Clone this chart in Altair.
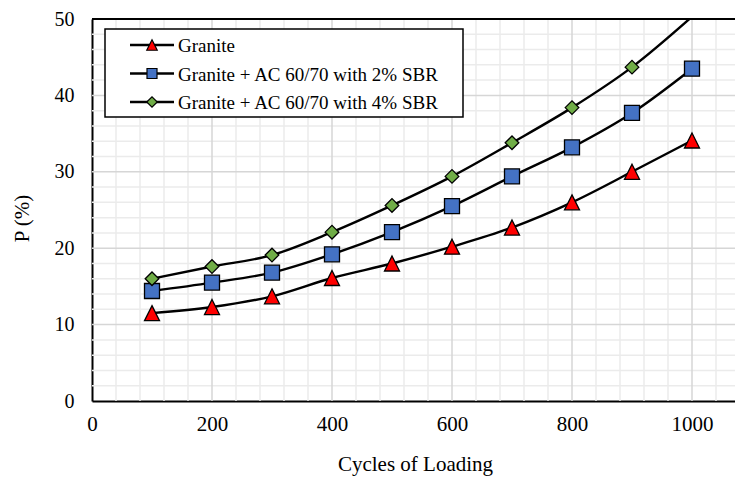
import altair as alt
import pandas as pd

# ---- data ----
cycles = [100, 200, 300, 400, 500, 600, 700, 800, 900, 1000]
series_names = ["Granite", "Granite + AC 60/70 with 2% SBR", "Granite + AC 60/70 with 4% SBR"]
granite = [11.5, 12.3, 13.7, 16.1, 18.0, 20.2, 22.7, 26.0, 30.0, 34.1]
sbr2 = [14.4, 15.5, 16.8, 19.2, 22.1, 25.5, 29.4, 33.2, 37.7, 43.5]
sbr4 = [16.0, 17.6, 19.1, 22.1, 25.6, 29.4, 33.8, 38.4, 43.7, 50.3]
x_ticks = [0, 200, 400, 600, 800, 1000]
y_ticks = [0, 10, 20, 30, 40, 50]

# ---- styling ----
FONT = "Liberation Serif"
W, H = 643, 382
XMAX = W / 0.6
YMAX = 50
shapes = ["M0,-1L1,1L-1,1Z", "square", "diamond"]
fills = ["#FF0000", "#4472C4", "#70AD47"]
plot_sizes = [225, 225, 185]
legend_sizes = [110, 100, 110]

rows = []
for name, vals in zip(series_names, [granite, sbr2, sbr4]):
    for c, v in zip(cycles, vals):
        rows.append({"series": name, "cycles": c, "P": v})
df = pd.DataFrame(rows)

xs = alt.Scale(domain=[0, XMAX], nice=False, zero=False)
ys = alt.Scale(domain=[0, YMAX], nice=False)

minor_x = [v for v in range(40, int(XMAX) + 1, 40) if v % 200 != 0]
major_x = [v for v in x_ticks if v > 0]
minor_y = [v for v in range(2, YMAX, 2) if v % 10 != 0]
major_y = [v for v in y_ticks if 0 < v < YMAX]

minor_col = "#EBEBEB"
major_col = "#D6D6D6"

x_axis = alt.Axis(values=x_ticks, format="d", grid=False, ticks=False, domainColor="black", domainWidth=2,
                  labelFont=FONT, labelFontSize=21, labelColor="black", labelPadding=12, labelFlush=False,
                  title="Cycles of Loading", titleFont=FONT, titleFontSize=21, titleFontWeight="normal",
                  titleColor="black", titleX=323, titleY=69, titleBaseline="alphabetic", titleAlign="center")
y_axis = alt.Axis(values=y_ticks, format="d", grid=False, ticks=False, domainColor="black", domainWidth=2,
                  labelFont=FONT, labelFontSize=20, labelColor="black", labelPadding=18, labelFlush=False,
                  title="P (%)", titleFont=FONT, titleFontSize=21, titleFontWeight="normal",
                  titleColor="black", titleX=-70, titleY=199, titleAngle=270, titleBaseline="middle",
                  titleAlign="center")

vminor = alt.Chart(pd.DataFrame({"gx": minor_x})).mark_rule(color=minor_col, strokeWidth=1.5).encode(
    x=alt.X("gx:Q", scale=xs, axis=x_axis), y=alt.value(0), y2=alt.value(H))
vmajor = alt.Chart(pd.DataFrame({"gx": major_x})).mark_rule(color=major_col, strokeWidth=1.5).encode(
    x=alt.X("gx:Q", scale=xs, axis=x_axis), y=alt.value(0), y2=alt.value(H))
hminor = alt.Chart(pd.DataFrame({"gy": minor_y})).mark_rule(color=minor_col, strokeWidth=1.5).encode(
    y=alt.Y("gy:Q", scale=ys, axis=y_axis), x=alt.value(0), x2=alt.value(W))
hmajor = alt.Chart(pd.DataFrame({"gy": major_y})).mark_rule(color=major_col, strokeWidth=1.5).encode(
    y=alt.Y("gy:Q", scale=ys, axis=y_axis), x=alt.value(0), x2=alt.value(W))

top_border = alt.Chart(pd.DataFrame({"b": [YMAX]})).mark_rule(color="black", strokeWidth=2).encode(
    y=alt.Y("b:Q", scale=ys, axis=y_axis), x=alt.value(0), x2=alt.value(W))

lines = alt.Chart(df).mark_line(color="black", strokeWidth=2.4, interpolate="monotone", clip=True).encode(
    x=alt.X("cycles:Q", scale=xs, axis=x_axis),
    y=alt.Y("P:Q", scale=ys, axis=y_axis),
    detail="series:N",
)

point_layers = []
for i, name in enumerate(series_names):
    point_layers.append(
        alt.Chart(df).transform_filter(
            (alt.datum.series == name) & (alt.datum.P <= YMAX)
        ).mark_point(shape=shapes[i], filled=True, fill=fills[i], stroke="black", strokeWidth=1.3,
                     opacity=1, size=plot_sizes[i]).encode(
            x=alt.X("cycles:Q", scale=xs, axis=x_axis),
            y=alt.Y("P:Q", scale=ys, axis=y_axis),
        )
    )

# ---- manual legend (Excel style: line through marker) ----
legend_layers = [
    alt.Chart(pd.DataFrame({"k": [0]})).mark_rect(fill="white", stroke="black", strokeWidth=1.5).encode(
        x=alt.value(13), x2=alt.value(371), y=alt.value(10), y2=alt.value(98))
]
row_y = [26, 54.5, 83]
for i, name in enumerate(series_names):
    d = pd.DataFrame({"s": [name]})
    legend_layers.append(alt.Chart(d).mark_rule(color="black", strokeWidth=2.4).encode(
        x=alt.value(38), x2=alt.value(82), y=alt.value(row_y[i])))
    legend_layers.append(alt.Chart(d).mark_point(shape=shapes[i], filled=True, fill=fills[i], stroke="black",
                                                 strokeWidth=1.2, opacity=1, size=legend_sizes[i]).encode(
        x=alt.value(60), y=alt.value(row_y[i])))
    legend_layers.append(alt.Chart(d).mark_text(font=FONT, fontSize=19, color="black", align="left",
                                                baseline="middle").encode(
        x=alt.value(86), y=alt.value(row_y[i] + 1), text="s:N"))

chart = alt.layer(
    hminor, vminor, hmajor, vmajor, lines, *point_layers, top_border, *legend_layers
).properties(
    width=W, height=H,
    autosize=alt.AutoSizeParams(type="none"),
    padding={"left": 84, "top": 11, "right": 0, "bottom": 76},
    background="white",
).configure_view(stroke=None)

chart.save("out.html", embed_options={"renderer": "svg", "actions": False})
